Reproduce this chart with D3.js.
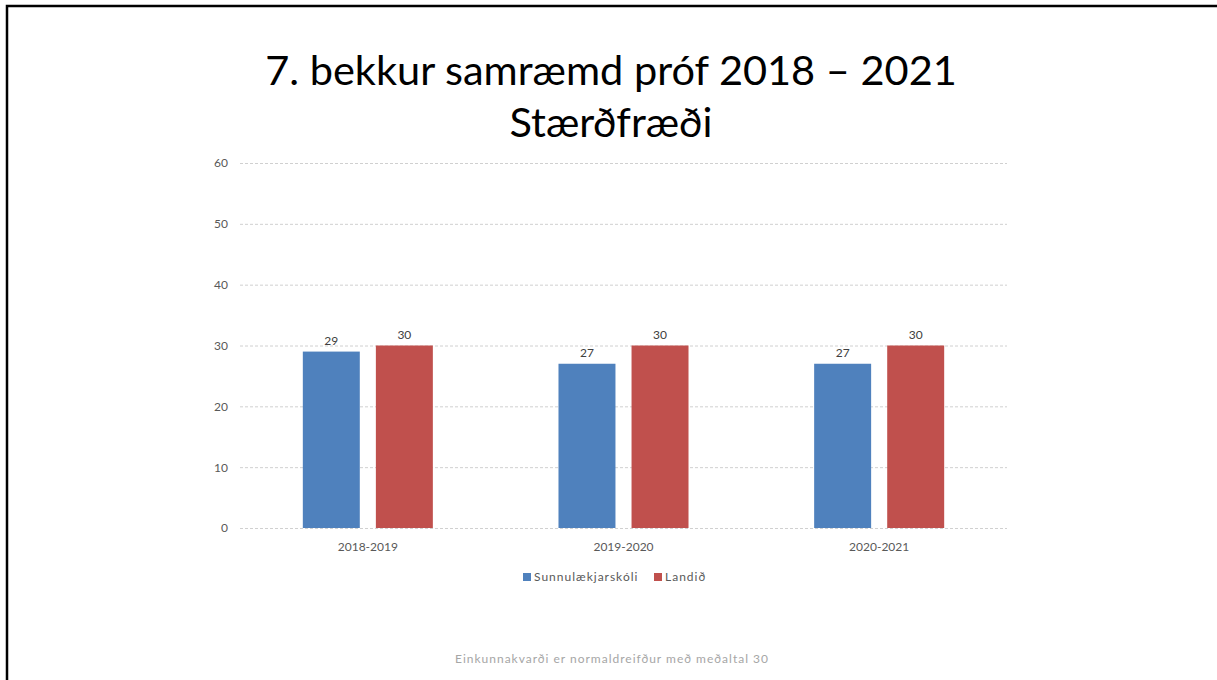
<!DOCTYPE html>
<html>
<head>
<meta charset="utf-8">
<script src="https://cdn.jsdelivr.net/npm/d3@7"></script>
<style>
  body { margin: 0; background: #fff; }
  svg { display: block; }
</style>
</head>
<body>
<div id="chart"></div>
<script>
// chart data
const years = ['2018-2019', '2019-2020', '2020-2021'];
const seriesNames = ['Sunnulækjarskóli', 'Landið'];
const sunnulaekjarskoli = [29, 27, 27];
const landid = [30, 30, 30];
const yTicks = [0, 10, 20, 30, 40, 50, 60];
const colors = ['#4f81bd', '#c0504d'];

const width = 1217, height = 680;
const margin = { top: 163, right: 210, bottom: 152, left: 240 };
const font = 'Lato, "Open Sans", sans-serif';

const svg = d3.select('#chart').append('svg')
    .attr('width', width)
    .attr('height', height);

// slide frame
svg.append('path')
    .attr('d', `M7,${height} L7,6 L${width},6`)
    .attr('fill', 'none')
    .attr('stroke', '#000')
    .attr('stroke-width', 2.5);

// title
const title = svg.append('text')
    .attr('text-anchor', 'middle')
    .attr('font-family', font)
    .attr('font-size', 41.5)
    .attr('fill', '#000');
title.append('tspan').attr('x', 611).attr('y', 85).text('7. bekkur samræmd próf 2018 – 2021');
title.append('tspan').attr('x', 611).attr('y', 137).text('Stærðfræði');

const chart = svg.append('g');

const x0 = d3.scaleBand()
    .domain(years)
    .range([margin.left, width - margin.right]);

const y = d3.scaleLinear()
    .domain([0, 60])
    .range([height - margin.bottom, margin.top]);

// gridlines
chart.append('g')
    .selectAll('line')
    .data(yTicks)
    .join('line')
    .attr('x1', margin.left)
    .attr('x2', width - margin.right)
    .attr('y1', d => y(d) + 0.5)
    .attr('y2', d => y(d) + 0.5)
    .attr('stroke', '#d0d0d0')
    .attr('stroke-dasharray', '3,2');

// y axis labels
const yAxis = d3.axisLeft(y).tickValues(yTicks).tickSize(0).tickPadding(12);
chart.append('g')
    .attr('transform', `translate(${margin.left},0)`)
    .call(yAxis)
    .call(g => g.select('.domain').remove())
    .selectAll('text')
    .attr('font-family', font)
    .attr('font-size', 12)
    .attr('fill', '#595959');

// x axis labels
const xAxis = d3.axisBottom(x0).tickSize(0).tickPadding(14);
chart.append('g')
    .attr('transform', `translate(0,${y(0)})`)
    .call(xAxis)
    .call(g => g.select('.domain').remove())
    .selectAll('text')
    .attr('font-family', font)
    .attr('font-size', 12)
    .attr('fill', '#595959');

// bars
const x1 = d3.scaleBand()
    .domain(seriesNames)
    .range([0, x0.bandwidth()])
    .paddingInner(0.22)
    .paddingOuter(0.86);

const table = years.map((yr, i) => ({ year: yr, values: [sunnulaekjarskoli[i], landid[i]] }));

const groups = chart.append('g')
    .selectAll('g')
    .data(table)
    .join('g')
    .attr('transform', d => `translate(${x0(d.year)},0)`);

groups.selectAll('rect')
    .data(d => d.values.map((v, k) => ({ name: seriesNames[k], value: v, k })))
    .join('rect')
    .attr('x', d => x1(d.name))
    .attr('y', d => y(d.value))
    .attr('width', x1.bandwidth())
    .attr('height', d => y(0) - y(d.value))
    .attr('fill', d => colors[d.k]);

groups.selectAll('text')
    .data(d => d.values.map((v, k) => ({ name: seriesNames[k], value: v, k })))
    .join('text')
    .attr('x', d => x1(d.name) + x1.bandwidth() / 2)
    .attr('y', d => y(d.value) - 7)
    .attr('text-anchor', 'middle')
    .attr('font-family', font)
    .attr('font-size', 12)
    .attr('fill', '#404040')
    .text(d => d.value);

// legend
const legend = svg.append('g').attr('transform', 'translate(523,577)');
const legendX = [0, 131];
seriesNames.forEach((name, k) => {
    const item = legend.append('g').attr('transform', `translate(${legendX[k]},0)`);
    item.append('rect')
        .attr('x', 0).attr('y', -4)
        .attr('width', 8).attr('height', 8)
        .attr('fill', colors[k]);
    item.append('text')
        .attr('x', 11).attr('y', 4)
        .attr('font-family', font)
        .attr('font-size', 12)
        .attr('letter-spacing', 1)
        .attr('fill', '#595959')
        .text(name);
});

// footnote
svg.append('text')
    .attr('x', 612)
    .attr('y', 663)
    .attr('text-anchor', 'middle')
    .attr('font-family', font)
    .attr('font-size', 12)
    .attr('letter-spacing', 1)
    .attr('fill', '#a6a6a6')
    .text('Einkunnakvarði er normaldreifður með meðaltal 30');
</script>
</body>
</html>
